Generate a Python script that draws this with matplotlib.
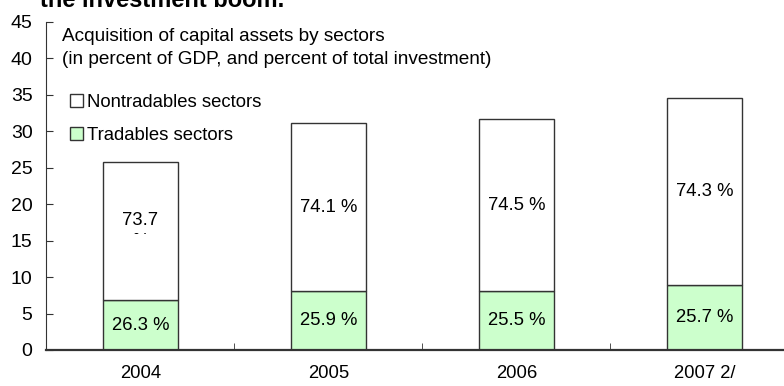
import matplotlib.pyplot as plt
from matplotlib.patches import Patch
from matplotlib.transforms import Bbox, TransformedBbox

plt.rcParams['font.family'] = ['Liberation Sans', 'DejaVu Sans']

years = ['2004', '2005', '2006', '2007 2/']
total_inv = [25.8, 31.1, 31.6, 34.6]          # percent of GDP
tradable_share = [26.3, 25.9, 25.5, 25.7]     # percent of total investment
nontradable_share = [73.7, 74.1, 74.5, 74.3]

tradable = [t * s / 100 for t, s in zip(total_inv, tradable_share)]
nontradable = [t - tr for t, tr in zip(total_inv, tradable)]

green = '#ccffcc'
edge = '#333333'
fs = 13.3

fig = plt.figure(figsize=(7.84, 3.86), dpi=100)
ax = fig.add_axes([0.0593, 0.0933, 0.959, 0.8505])

x = range(len(years))
w = 0.4
ax.bar(x, tradable, w, color=green, edgecolor=edge, linewidth=1, label='Tradables sectors')
ax.bar(x, nontradable, w, bottom=tradable, color='white', edgecolor=edge, linewidth=1,
       label='Nontradables sectors')

for i in x:
    ax.text(i, tradable[i] / 2, f'{tradable_share[i]} %', ha='center', va='center', fontsize=fs)
    mid = tradable[i] + nontradable[i] / 2
    if i == 0:
        # narrow label box: the wrapped percent sign gets cut off
        t = ax.text(i, mid, f'{nontradable_share[i]}\n%', ha='center', va='center', fontsize=fs,
                    linespacing=1.25)
        clip = TransformedBbox(Bbox([[-0.5, mid - 0.35], [0.5, 40]]), ax.transData)
        t.set_clip_box(clip)
        t.set_clip_on(True)
    else:
        ax.text(i, mid, f'{nontradable_share[i]} %', ha='center', va='center', fontsize=fs)

ax.set_xlim(-0.5, 3.5)
ax.set_ylim(0, 45)
ax.set_yticks(range(0, 46, 5))
ax.set_xticks(x)
ax.set_xticklabels(years)
ax.set_xticks([0.5, 1.5, 2.5], minor=True)
ax.tick_params(axis='x', which='major', length=0, pad=11, labelsize=13.3)
ax.tick_params(axis='x', which='minor', direction='in', length=5, color=edge)
ax.tick_params(axis='y', direction='in', length=5, pad=10, labelsize=14, color=edge)

for s in ['top', 'right']:
    ax.spines[s].set_visible(False)
ax.spines['left'].set_color(edge)
ax.spines['bottom'].set_color(edge)
ax.spines['bottom'].set_linewidth(1.6)

ax.text(0.02, 0.98, 'Acquisition of capital assets by sectors\n(in percent of GDP, and percent of total investment)',
        transform=ax.transAxes, ha='left', va='top', fontsize=13.7, linespacing=1.45)

handles = [Patch(facecolor='white', edgecolor=edge, label='Nontradables sectors'),
           Patch(facecolor=green, edgecolor=edge, label='Tradables sectors')]
ax.legend(handles=handles, loc='upper left', bbox_to_anchor=(0.031, 0.78), frameon=False,
          handlelength=0.7, handleheight=0.7, handletextpad=0.25, labelspacing=0.85,
          fontsize=fs, borderaxespad=0, borderpad=0)

fig.text(0.051, 0.981, 'the investment boom.', ha='left', va='baseline', fontsize=17,
         fontweight='bold')

fig.savefig('out.png', dpi=100)
